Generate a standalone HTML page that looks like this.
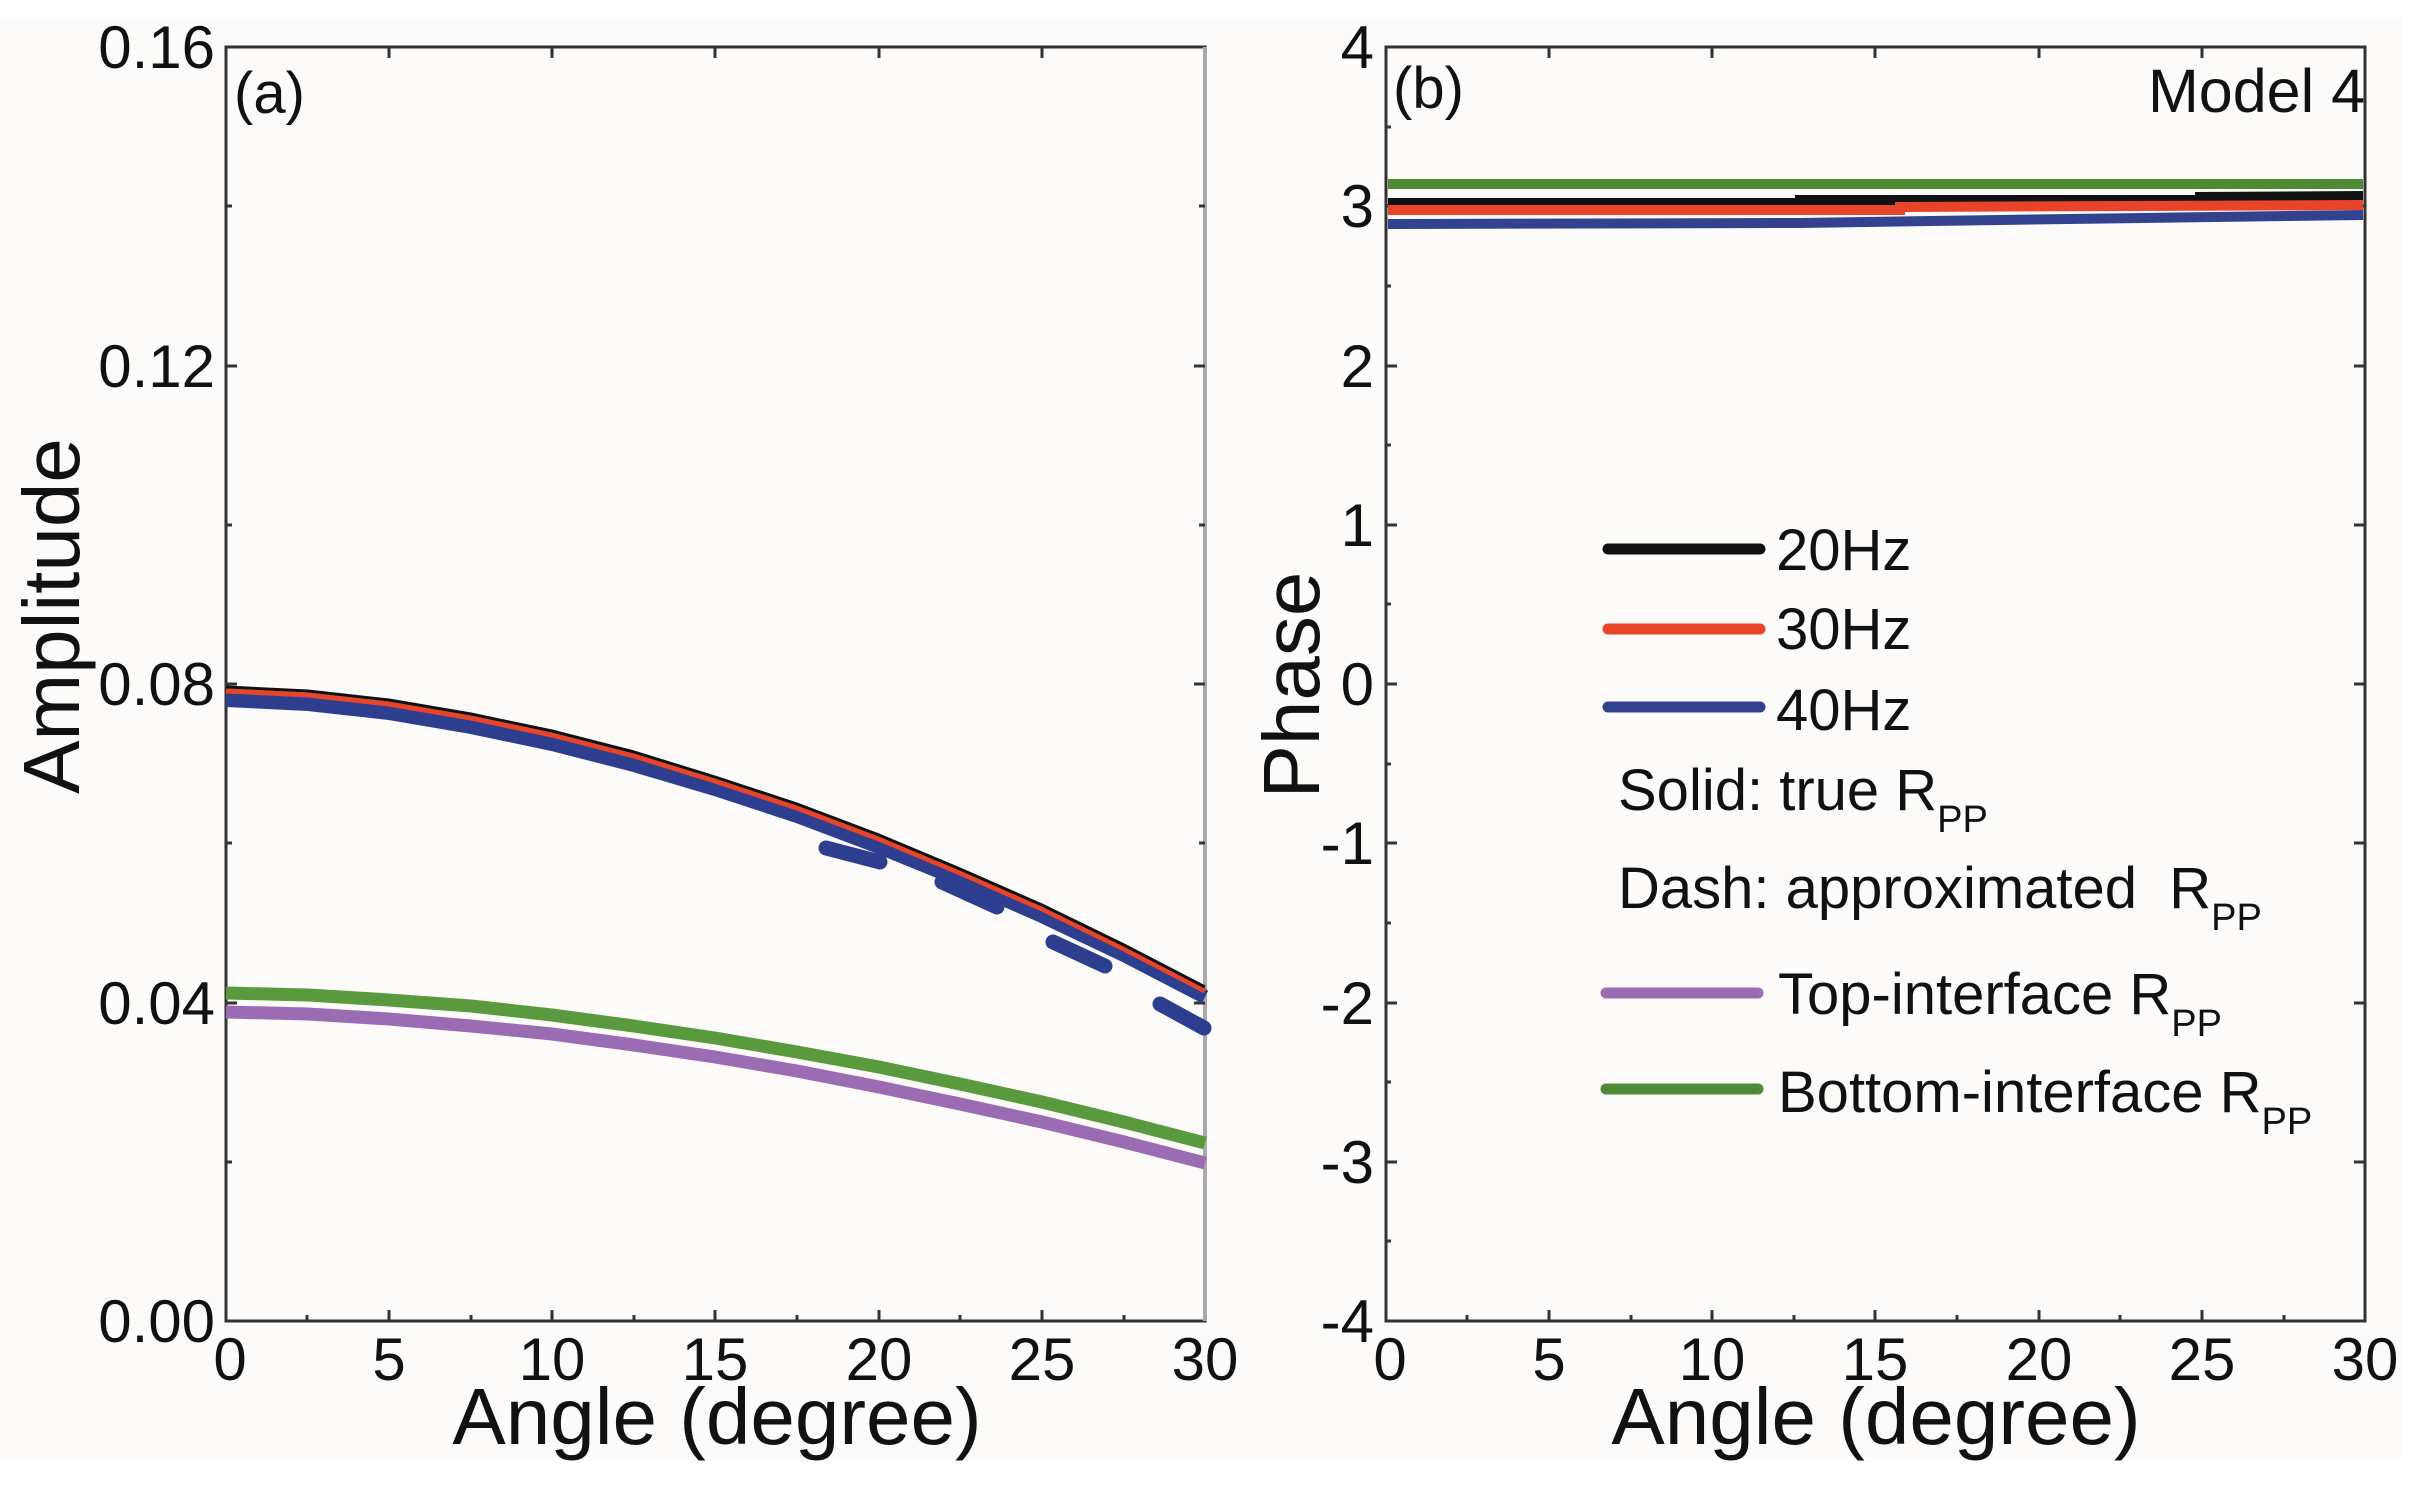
<!DOCTYPE html>
<html><head><meta charset="utf-8"><style>
html,body{margin:0;padding:0;background:#fff;}
svg{display:block;}
text{font-family:"Liberation Sans",sans-serif;fill:#111;}
</style></head><body>
<svg width="2423" height="1487" viewBox="0 0 2423 1487" xmlns="http://www.w3.org/2000/svg">
<rect x="0" y="0" width="2423" height="1487" fill="#fff"/>
<rect x="0" y="17" width="2402" height="1440" fill="#fcfbf9"/>

<!-- Panel a frame -->
<rect x="226" y="47" width="979" height="1274" fill="none" stroke="#333" stroke-width="3"/>
<line x1="1205" y1="47" x2="1205" y2="1321" stroke="#aaa" stroke-width="4"/>
<g stroke="#333" stroke-width="3">
<line x1="389" y1="1321" x2="389" y2="1310"/><line x1="552" y1="1321" x2="552" y2="1310"/><line x1="715" y1="1321" x2="715" y2="1310"/><line x1="879" y1="1321" x2="879" y2="1310"/><line x1="1042" y1="1321" x2="1042" y2="1310"/>
<line x1="307" y1="1321" x2="307" y2="1315"/><line x1="471" y1="1321" x2="471" y2="1315"/><line x1="634" y1="1321" x2="634" y2="1315"/><line x1="797" y1="1321" x2="797" y2="1315"/><line x1="960" y1="1321" x2="960" y2="1315"/><line x1="1124" y1="1321" x2="1124" y2="1315"/>
<line x1="389" y1="47" x2="389" y2="58"/><line x1="552" y1="47" x2="552" y2="58"/><line x1="715" y1="47" x2="715" y2="58"/><line x1="879" y1="47" x2="879" y2="58"/><line x1="1042" y1="47" x2="1042" y2="58"/>
<line x1="226" y1="366" x2="237" y2="366"/><line x1="226" y1="684" x2="237" y2="684"/><line x1="226" y1="1003" x2="237" y2="1003"/>
<line x1="226" y1="206" x2="232" y2="206"/><line x1="226" y1="525" x2="232" y2="525"/><line x1="226" y1="843" x2="232" y2="843"/><line x1="226" y1="1162" x2="232" y2="1162"/>
<line x1="1205" y1="366" x2="1194" y2="366"/><line x1="1205" y1="684" x2="1194" y2="684"/><line x1="1205" y1="1003" x2="1194" y2="1003"/>
<line x1="1205" y1="206" x2="1199" y2="206"/><line x1="1205" y1="525" x2="1199" y2="525"/><line x1="1205" y1="843" x2="1199" y2="843"/><line x1="1205" y1="1162" x2="1199" y2="1162"/>
</g>
<g font-size="60" text-anchor="end">
<text x="215" y="68">0.16</text><text x="215" y="387">0.12</text><text x="215" y="705">0.08</text><text x="215" y="1024">0.04</text><text x="215" y="1342">0.00</text>
</g>
<g font-size="60" text-anchor="middle">
<text x="230" y="1380">0</text><text x="389" y="1380">5</text><text x="552" y="1380">10</text><text x="715" y="1380">15</text><text x="879" y="1380">20</text><text x="1042" y="1380">25</text><text x="1205" y="1380">30</text>
</g>
<text x="717" y="1444" font-size="80" text-anchor="middle">Angle (degree)</text>
<text transform="translate(79,616) rotate(-90)" font-size="80" text-anchor="middle">Amplitude</text>
<text x="234" y="113" font-size="58">(a)</text>

<!-- series a -->
<g fill="none" stroke-linejoin="round" stroke-linecap="butt">
<polyline stroke="#5a9a3e" stroke-width="13" points="226,993 308,995 389,1000 471,1006 552,1015 634,1026 715,1038 797,1052 879,1067 960,1084 1042,1102 1124,1122 1205,1143"/>
<polyline stroke="#9b6cb4" stroke-width="13" points="226,1012 308,1014 389,1019 471,1026 552,1034 634,1045 715,1057 797,1071 879,1087 960,1104 1042,1122 1124,1142 1205,1163"/>
<polyline stroke="#2e3e8e" stroke-width="14" points="226,700 308,704 389,713 471,727 552,744 634,765 715,789 797,816 879,847 960,880 1042,916 1124,955 1205,997"/>
<polyline stroke="#e8442a" stroke-width="5" points="226,691 308,695 389,704 471,718 552,735 634,756 715,781 797,808 879,839 960,873 1042,909 1124,949 1205,991"/>
<polyline stroke="#111" stroke-width="3" points="226,687 308,691 389,700 471,714 552,731 634,752 715,777 797,804 879,835 960,869 1042,905 1124,945 1205,987"/>
<g stroke="#2e3e8e" stroke-width="15" stroke-linecap="round">
<line x1="826" y1="848" x2="880" y2="862"/>
<line x1="942" y1="882" x2="997" y2="907"/>
<line x1="1053" y1="942" x2="1105" y2="966"/>
<line x1="1160" y1="1004" x2="1204" y2="1028"/>
</g>
</g>

<!-- Panel b frame -->
<rect x="1386" y="47" width="979" height="1274" fill="none" stroke="#333" stroke-width="3"/>
<g stroke="#333" stroke-width="3">
<line x1="1549" y1="1321" x2="1549" y2="1310"/><line x1="1712" y1="1321" x2="1712" y2="1310"/><line x1="1875" y1="1321" x2="1875" y2="1310"/><line x1="2039" y1="1321" x2="2039" y2="1310"/><line x1="2202" y1="1321" x2="2202" y2="1310"/>
<line x1="1467" y1="1321" x2="1467" y2="1315"/><line x1="1631" y1="1321" x2="1631" y2="1315"/><line x1="1794" y1="1321" x2="1794" y2="1315"/><line x1="1957" y1="1321" x2="1957" y2="1315"/><line x1="2120" y1="1321" x2="2120" y2="1315"/><line x1="2284" y1="1321" x2="2284" y2="1315"/>
<line x1="1549" y1="47" x2="1549" y2="58"/><line x1="1712" y1="47" x2="1712" y2="58"/><line x1="1875" y1="47" x2="1875" y2="58"/><line x1="2039" y1="47" x2="2039" y2="58"/><line x1="2202" y1="47" x2="2202" y2="58"/>
<line x1="1386" y1="206" x2="1397" y2="206"/><line x1="1386" y1="366" x2="1397" y2="366"/><line x1="1386" y1="525" x2="1397" y2="525"/><line x1="1386" y1="684" x2="1397" y2="684"/><line x1="1386" y1="843" x2="1397" y2="843"/><line x1="1386" y1="1003" x2="1397" y2="1003"/><line x1="1386" y1="1162" x2="1397" y2="1162"/>
<line x1="1386" y1="127" x2="1391" y2="127"/><line x1="1386" y1="286" x2="1391" y2="286"/><line x1="1386" y1="445" x2="1391" y2="445"/><line x1="1386" y1="604" x2="1391" y2="604"/><line x1="1386" y1="764" x2="1391" y2="764"/><line x1="1386" y1="923" x2="1391" y2="923"/><line x1="1386" y1="1082" x2="1391" y2="1082"/><line x1="1386" y1="1241" x2="1391" y2="1241"/>
<line x1="2365" y1="206" x2="2354" y2="206"/><line x1="2365" y1="366" x2="2354" y2="366"/><line x1="2365" y1="525" x2="2354" y2="525"/><line x1="2365" y1="684" x2="2354" y2="684"/><line x1="2365" y1="843" x2="2354" y2="843"/><line x1="2365" y1="1003" x2="2354" y2="1003"/><line x1="2365" y1="1162" x2="2354" y2="1162"/>
</g>
<g font-size="60" text-anchor="end">
<text x="1374" y="68">4</text><text x="1374" y="227">3</text><text x="1374" y="387">2</text><text x="1374" y="546">1</text><text x="1374" y="705">0</text><text x="1374" y="864">-1</text><text x="1374" y="1024">-2</text><text x="1374" y="1183">-3</text><text x="1374" y="1342">-4</text>
</g>
<g font-size="60" text-anchor="middle">
<text x="1390" y="1380">0</text><text x="1549" y="1380">5</text><text x="1712" y="1380">10</text><text x="1875" y="1380">15</text><text x="2039" y="1380">20</text><text x="2202" y="1380">25</text><text x="2365" y="1380">30</text>
</g>
<text x="1876" y="1444" font-size="80" text-anchor="middle">Angle (degree)</text>
<text transform="translate(1319,685) rotate(-90)" font-size="80" text-anchor="middle">Phase</text>
<text x="1393" y="108" font-size="58">(b)</text>
<text x="2365" y="112" font-size="61" text-anchor="end">Model 4</text>

<!-- series b -->
<g fill="none" stroke-width="10">
<line x1="1388" y1="184" x2="2363" y2="184" stroke="#4f8a34"/>
<polyline stroke="#111" points="1388,203 1800,203 1800,200 2200,200 2200,197 2363,196"/>
<polyline stroke="#e8442a" points="1388,210 1900,210 1900,207 2363,205"/>
<polyline stroke="#33428e" points="1388,224 1800,223 2000,220 2363,215"/>
</g>

<!-- legend -->
<g stroke-width="11" stroke-linecap="round">
<line x1="1608" y1="549" x2="1760" y2="549" stroke="#111"/>
<line x1="1608" y1="629" x2="1760" y2="629" stroke="#e8442a"/>
<line x1="1608" y1="707" x2="1760" y2="707" stroke="#33428e"/>
<line x1="1606" y1="993" x2="1758" y2="993" stroke="#9b6cb4"/>
<line x1="1606" y1="1089" x2="1758" y2="1089" stroke="#4f8a34"/>
</g>
<g font-size="58">
<text x="1776" y="570">20Hz</text>
<text x="1776" y="649">30Hz</text>
<text x="1776" y="730">40Hz</text>
<text x="1618" y="810">Solid: true R<tspan font-size="38" dy="22">PP</tspan></text>
<text x="1618" y="908">Dash: approximated&#160;&#160;R<tspan font-size="38" dy="22">PP</tspan></text>
<text x="1778" y="1014">Top-interface R<tspan font-size="38" dy="22">PP</tspan></text>
<text x="1778" y="1112">Bottom-interface R<tspan font-size="38" dy="22">PP</tspan></text>
</g>
</svg>
</body></html>
